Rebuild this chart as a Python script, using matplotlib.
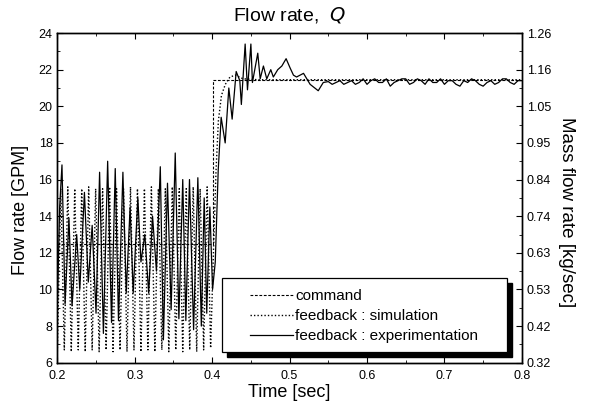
import matplotlib.pyplot as plt
from matplotlib.patches import Rectangle
from matplotlib.ticker import MultipleLocator

plt.rcParams['font.family'] = ['Liberation Sans', 'DejaVu Sans']

# command (step)
t_cmd = [0.2, 0.4009, 0.4009, 0.8]
q_cmd = [12.5, 12.5, 21.45, 21.45]

# feedback : simulation
t_sim = [0.2000, 0.2045, 0.2090, 0.2135, 0.2180, 0.2225, 0.2270, 0.2315, 0.2360, 0.2405,
         0.2450, 0.2495, 0.2540, 0.2585, 0.2630, 0.2675, 0.2720, 0.2765, 0.2810, 0.2855,
         0.2900, 0.2945, 0.2990, 0.3035, 0.3080, 0.3125, 0.3170, 0.3215, 0.3260, 0.3305,
         0.3350, 0.3395, 0.3440, 0.3485, 0.3530, 0.3575, 0.3620, 0.3665, 0.3710, 0.3755,
         0.3800, 0.3845, 0.3890, 0.3935, 0.3980, 0.4020, 0.4050, 0.4080, 0.4120, 0.4170,
         0.4230, 0.4300, 0.4400, 0.4600, 0.5000, 0.8000]
q_sim = [6.6, 15.5, 6.7, 15.6, 6.6, 15.5, 6.7, 15.5, 6.6, 15.6,
         6.7, 15.5, 6.6, 15.5, 6.7, 15.6, 6.6, 15.5, 6.7, 15.5,
         6.6, 15.6, 6.7, 15.5, 6.6, 15.5, 6.7, 15.6, 6.6, 15.5,
         6.7, 15.5, 6.6, 15.6, 6.7, 15.5, 6.6, 15.5, 6.7, 15.6,
         6.6, 15.5, 6.7, 15.6, 6.8, 12.5, 16.5, 19.2, 20.6, 21.2,
         21.6, 21.7, 21.5, 21.45, 21.45, 21.45]

# feedback : experimentation
t_exp = [0.200, 0.203, 0.206, 0.210, 0.215, 0.219, 0.225, 0.229, 0.235, 0.240,
         0.245, 0.250, 0.2546, 0.2595, 0.265, 0.270, 0.2748, 0.279, 0.2847, 0.289,
         0.294, 0.298, 0.304, 0.308, 0.313, 0.318, 0.323, 0.328, 0.333, 0.337,
         0.3423, 0.347, 0.3523, 0.357, 0.362, 0.366, 0.3707, 0.376, 0.3815, 0.386,
         0.3897, 0.393, 0.397, 0.4005, 0.404, 0.4078, 0.4116, 0.4168, 0.4215, 0.4258,
         0.431, 0.4357, 0.4377, 0.4426, 0.4456, 0.450, 0.452, 0.4589, 0.462, 0.4662,
         0.4705, 0.4757, 0.479, 0.4847, 0.490, 0.4955, 0.5006, 0.505, 0.509, 0.518,
         0.5265, 0.537, 0.5435, 0.550, 0.555, 0.560, 0.565, 0.570, 0.575, 0.580,
         0.585, 0.590, 0.595, 0.600, 0.605, 0.610, 0.615, 0.620, 0.625, 0.630,
         0.635, 0.640, 0.645, 0.650, 0.655, 0.660, 0.665, 0.670, 0.675, 0.680,
         0.685, 0.690, 0.695, 0.700, 0.705, 0.710, 0.715, 0.720, 0.725, 0.730,
         0.735, 0.740, 0.745, 0.750, 0.755, 0.760, 0.765, 0.770, 0.775, 0.780,
         0.785, 0.790, 0.795, 0.800]
q_exp = [9.0, 14.5, 16.8, 9.2, 13.9, 9.1, 13.0, 10.0, 15.3, 10.4,
         13.5, 8.7, 16.4, 7.6, 17.0, 8.2, 16.6, 8.3, 16.4, 9.8,
         14.5, 9.8, 15.0, 11.5, 13.0, 9.8, 14.0, 11.0, 16.7, 7.25,
         15.8, 8.9, 17.45, 8.4, 16.0, 8.3, 16.0, 7.8, 16.1, 8.0,
         15.0, 8.7, 14.5, 10.0, 11.5, 16.5, 19.4, 18.0, 21.0, 19.3,
         21.9, 21.4, 20.1, 23.4, 20.9, 23.4, 21.3, 22.9, 21.5, 22.2,
         21.5, 22.0, 21.6, 22.0, 22.2, 22.6, 22.1, 21.7, 21.6, 21.8,
         21.2, 20.85, 21.3, 21.35, 21.2, 21.3, 21.4, 21.2, 21.3, 21.4,
         21.2, 21.3, 21.5, 21.2, 21.4, 21.5, 21.3, 21.3, 21.5, 21.1,
         21.3, 21.4, 21.5, 21.5, 21.2, 21.3, 21.5, 21.4, 21.2, 21.5,
         21.3, 21.3, 21.5, 21.2, 21.4, 21.4, 21.2, 21.1, 21.4, 21.3,
         21.5, 21.4, 21.2, 21.1, 21.3, 21.4, 21.2, 21.3, 21.5, 21.5,
         21.3, 21.2, 21.4, 21.4]

left_ticks = [6, 8, 10, 12, 14, 16, 18, 20, 22, 24]
right_labels = ['0.32', '0.42', '0.53', '0.63', '0.74', '0.84', '0.95', '1.05', '1.16', '1.26']

fig, ax1 = plt.subplots(figsize=(5.91, 4.03), dpi=100)
fig.subplots_adjust(left=0.097, right=0.883, top=0.918, bottom=0.1)

ax1.plot(t_cmd, q_cmd, color='black', lw=0.8, ls=(0, (2.5, 1.5)), label='command')
ax1.plot(t_sim, q_sim, color='black', lw=1.0, ls=(0, (1, 1.5)), label='feedback : simulation')
ax1.plot(t_exp, q_exp, color='black', lw=0.9, label='feedback : experimentation')

ax1.set_xlim(0.2, 0.8)
ax1.set_ylim(6, 24)
ax1.set_yticks(left_ticks)
ax1.xaxis.set_minor_locator(MultipleLocator(0.05))
ax1.yaxis.set_minor_locator(MultipleLocator(1))
ax1.tick_params(which='both', direction='in', top=True, labelsize=9)
ax1.tick_params(axis='x', pad=5)
ax1.tick_params(which='major', length=4)
ax1.tick_params(which='minor', length=2)
ax1.set_xlabel('Time [sec]', fontsize=13, labelpad=2)
ax1.set_ylabel('Flow rate [GPM]', fontsize=13)
ax1.yaxis.set_label_coords(-0.06, 0.464)
ax1.set_title('Flow rate,  $Q$', fontsize=14, pad=9)

ax2 = ax1.twinx()
ax2.set_ylim(6, 24)
ax2.set_yticks(left_ticks)
ax2.set_yticklabels(right_labels)
ax2.yaxis.set_minor_locator(MultipleLocator(1))
ax2.tick_params(which='both', direction='in', labelsize=9)
ax2.tick_params(which='major', length=4)
ax2.tick_params(which='minor', length=2)
ax2.set_ylabel('Mass flow rate [kg/sec]', fontsize=13.5, rotation=-90, va='center')
ax2.yaxis.set_label_coords(1.097, 0.458)

# legend box with a solid drop shadow
box_x0, box_y0, box_w, box_h = 0.355, 0.033, 0.613, 0.225
ax1.add_patch(Rectangle((box_x0 + 0.011, box_y0 - 0.015), box_w, box_h,
                        transform=ax1.transAxes, facecolor='black',
                        edgecolor='black', zorder=4))
ax1.add_patch(Rectangle((box_x0, box_y0), box_w, box_h, transform=ax1.transAxes,
                        facecolor='white', edgecolor='black', lw=0.9, zorder=4.5))
ax1.legend(loc='center left', bbox_to_anchor=(0.415, box_y0 + box_h / 2 - 0.005),
           frameon=False, fontsize=11, handlelength=2.8, handletextpad=0.15,
           borderpad=0, borderaxespad=0, labelspacing=0.4)

for ax in (ax1, ax2):
    for s in ax.spines.values():
        s.set_linewidth(1.0)

fig.savefig('out.png', dpi=100)
